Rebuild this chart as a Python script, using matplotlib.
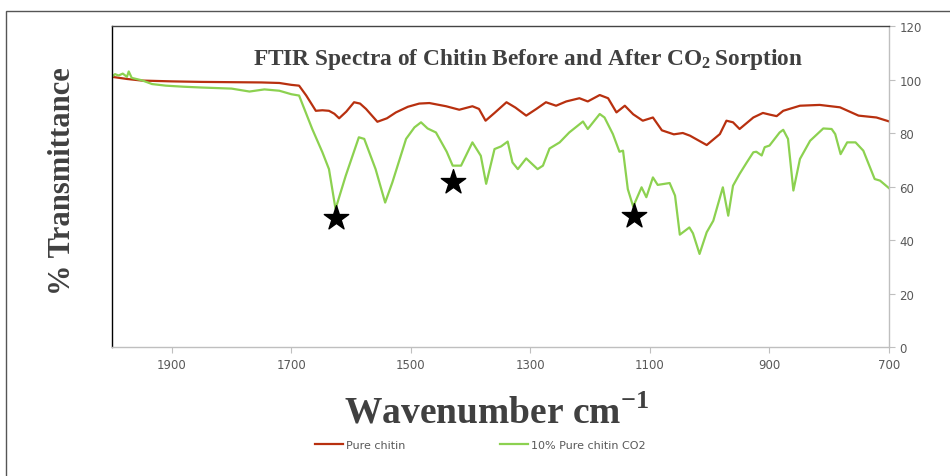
import matplotlib.pyplot as plt
from matplotlib.patches import Rectangle

plt.rcParams['mathtext.fontset'] = 'custom'
plt.rcParams['mathtext.rm'] = 'Liberation Serif'
plt.rcParams['mathtext.bf'] = 'Liberation Serif:bold'

# Espectro de quitina pura (número de onda, % transmitancia)
wn_pure = [2000, 1975, 1950, 1900, 1850, 1800, 1750, 1720, 1700, 1687, 1675,
           1659, 1648, 1637, 1628, 1620, 1608, 1595, 1585, 1575, 1556, 1540,
           1525, 1505, 1486, 1469, 1441, 1419, 1397, 1386, 1375, 1360, 1340,
           1325, 1307, 1290, 1274, 1257, 1240, 1218, 1204, 1184, 1170, 1156,
           1142, 1128, 1112, 1095, 1080, 1060, 1045, 1033, 1005, 983, 972,
           961, 950, 927, 911, 900, 888, 877, 849, 816, 782, 751, 721, 698]
t_pure = [101.0, 100.2, 99.6, 99.3, 99.1, 99.0, 98.9, 98.7, 98.0, 97.7, 94.0,
          88.3, 88.5, 88.3, 87.2, 85.5, 88.0, 91.5, 91.0, 89.0, 84.2, 85.5,
          87.7, 89.8, 91.0, 91.2, 90.0, 88.7, 90.0, 89.0, 84.6, 87.5, 91.5,
          89.5, 86.5, 89.0, 91.5, 90.2, 91.8, 93.0, 91.8, 94.2, 93.0, 87.7,
          90.2, 87.0, 84.6, 85.8, 81.0, 79.5, 80.0, 79.0, 75.5, 79.6, 84.6,
          84.0, 81.5, 85.8, 87.5, 86.9, 86.3, 88.3, 90.2, 90.5, 89.6, 86.5,
          85.8, 84.2]

# Espectro tras sorción de CO2
wn_co2 = [2001, 1995, 1989, 1982, 1975, 1972, 1967, 1950, 1933, 1910, 1880,
          1850, 1800, 1770, 1745, 1720, 1700, 1687, 1665, 1648, 1637, 1626,
          1609, 1587, 1578, 1559, 1543, 1531, 1508, 1494, 1483, 1472, 1458,
          1440, 1430, 1416, 1397, 1383, 1374, 1360, 1349, 1338, 1330, 1321,
          1307, 1288, 1279, 1268, 1251, 1235, 1212, 1204, 1184, 1176, 1162,
          1151, 1145, 1137, 1128, 1114, 1106, 1095, 1087, 1067, 1058, 1050,
          1034, 1028, 1017, 1005, 994, 978, 969, 961, 950, 938, 927, 922, 913,
          908, 900, 883, 877, 869, 860, 849, 832, 810, 796, 790, 781, 770,
          756, 743, 724, 715, 698]
t_co2 = [100.8, 102.0, 101.5, 102.2, 101.0, 103.0, 100.6, 99.7, 98.3, 97.7,
         97.3, 97.0, 96.6, 95.5, 96.3, 95.8, 94.5, 94.0, 81.5, 72.8, 66.5,
         51.6, 64.0, 78.4, 77.8, 66.5, 54.0, 61.5, 77.8, 82.1, 84.0, 81.7,
         80.2, 73.0, 67.8, 67.8, 76.5, 71.5, 61.0, 74.0, 75.0, 76.8, 69.0,
         66.5, 70.5, 66.5, 67.8, 74.2, 76.5, 80.2, 84.3, 81.5, 87.1, 85.8,
         79.6, 73.0, 73.4, 59.0, 52.5, 59.7, 56.0, 63.4, 60.6, 61.3, 56.6,
         42.0, 44.7, 42.5, 34.8, 42.9, 47.2, 59.7, 49.1, 60.3, 64.7, 69.0,
         72.8, 73.0, 71.6, 74.7, 75.3, 80.2, 81.2, 77.8, 58.5, 70.3, 77.1,
         81.7, 81.5, 79.6, 72.1, 76.5, 76.5, 73.4, 62.8, 62.2, 59.0]

# Estrellas que marcan las bandas de interés
star_wn = [1626, 1429, 1127]
star_t = [48.2, 61.7, 49.0]

x_ticks = [1900, 1700, 1500, 1300, 1100, 900, 700]
y_ticks = [0, 20, 40, 60, 80, 100, 120]

fig = plt.figure(figsize=(9.5, 4.77), dpi=100, facecolor='white')
fig.patches.append(Rectangle((0.006, -0.02), 1.1, 0.995, transform=fig.transFigure,
                             fill=False, edgecolor='#555555', lw=1.0))
ax = fig.add_axes([0.1179, 0.2704, 0.8179, 0.673])

ax.plot(wn_pure, t_pure, color='#B8300F', lw=1.6, label='Pure chitin')
ax.plot(wn_co2, t_co2, color='#8CD150', lw=1.6, label='10% Pure chitin CO2')
ax.scatter(star_wn, star_t, marker='*', s=340, color='black', zorder=5)

ax.set_xlim(2000, 700)
ax.set_ylim(0, 120)
ax.set_xticks(x_ticks)
ax.set_yticks(y_ticks)
ax.yaxis.tick_right()
ax.tick_params(axis='both', colors='#bfbfbf', labelcolor='#595959', labelsize=8.5,
               length=4, direction='out')
ax.tick_params(axis='x', pad=4)

for side, col in [('left', 'black'), ('top', '#444444'),
                  ('right', '#bfbfbf'), ('bottom', '#bfbfbf')]:
    ax.spines[side].set_color(col)
    ax.spines[side].set_linewidth(1.0)

serif = ['Liberation Serif', 'DejaVu Serif']
ax.text(0.535, 0.9, 'FTIR Spectra of Chitin Before and After CO$_\\mathbf{2}\\,$Sorption',
        transform=ax.transAxes, ha='center', va='center', fontsize=16.8,
        fontweight='bold', color='#404040', family=serif)

fig.text(0.066, 0.62, '% Transmittance', rotation=90, ha='center', va='center',
         fontsize=22, fontweight='bold', color='#404040', family=serif)
fig.text(0.523, 0.133, 'Wavenumber cm$^{\\mathbf{-1}}$', ha='center', va='center',
         fontsize=27, fontweight='bold', color='#404040', family=serif)

leg = fig.legend(loc='center', bbox_to_anchor=(0.506, 0.065), ncol=2, frameon=False,
                 fontsize=8, handlelength=2.5, columnspacing=8.5, handletextpad=0.3)
for txt in leg.get_texts():
    txt.set_color('#595959')

fig.savefig('out.png', dpi=100, facecolor='white')
